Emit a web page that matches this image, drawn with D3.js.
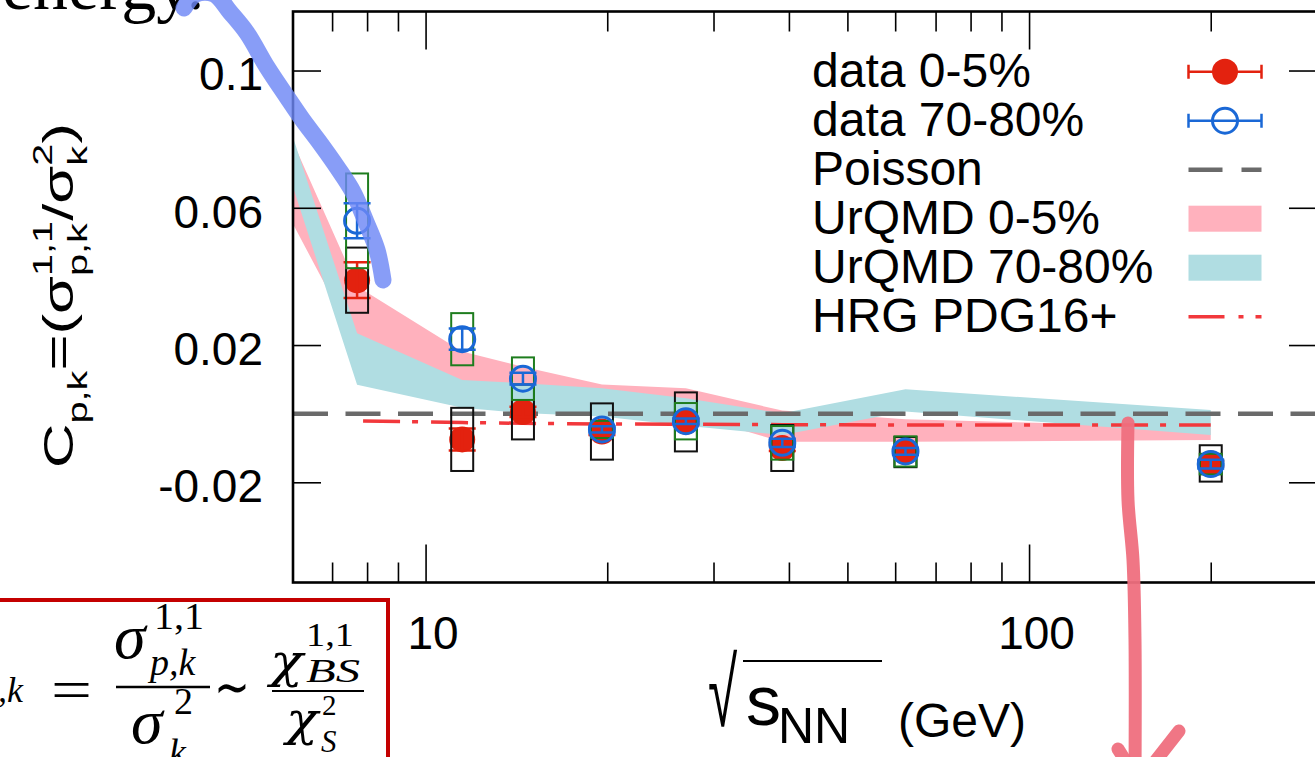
<!DOCTYPE html>
<html>
<head>
<meta charset="utf-8">
<script src="https://cdn.jsdelivr.net/npm/d3@7"></script>
<style>
  html, body { margin: 0; padding: 0; background: #fff; }
  svg { display: block; }
</style>
</head>
<body>
<svg id="chart" width="1315" height="757"></svg>
<script>
// ---- data -------------------------------------------------------------
// beam energies of the measured points (GeV)
const energies = [7.7, 11.5, 14.5, 19.6, 27, 39, 62.4, 200];

// C_{p,k}, 0-5% centrality: value, statistical and systematic errors
const central      = [0.0389, -0.0075, 0.0005, -0.0052, -0.0024, -0.0100, -0.0112, -0.0145];
const centralStat  = [0.0052, 0.0032, 0.0015, 0.0010, 0.0009, 0.0009, 0.0008, 0.0008];
const centralSys   = [0.0095, 0.0092, 0.0080, 0.0082, 0.0086, 0.0067, 0.0044, 0.0053];

// C_{p,k}, 70-80% centrality
const peripheral     = [0.0562, 0.0217, 0.0102, -0.0046, -0.0022, -0.0085, -0.0110, -0.0147];
const peripheralStat = [0.0051, 0.0031, 0.0017, 0.0009, 0.0008, 0.0012, 0.0010, 0.0013];
const peripheralSys  = [0.0138, 0.0076, 0.0062, 0.0025, 0.0053, 0.0049, 0.0044, 0.0030];

// UrQMD bands (lower / upper edge)
const bandEnergies     = [6, 7.7, 11.5, 14.5, 19.6, 27, 39, 62.4, 200];
const urqmdCentralLo   = [0.056, 0.020, 0.008, 0.006, 0.003, 0.000, -0.0082, -0.0082, -0.0077];
const urqmdCentralHi   = [0.080, 0.0371, 0.0181, 0.0137, 0.0085, 0.0074, 0.0009, -0.0016, -0.0040];
const urqmdPeriphLo    = [0.0672, 0.0084, 0.0017, 0.0002, -0.0008, -0.0035, -0.0062, 0.0006, -0.0062];
const urqmdPeriphHi    = [0.0817, 0.0234, 0.0098, 0.0089, 0.0074, 0.0045, 0.0001, 0.0071, 0.0011];

// HRG (PDG16+) expectation
const hrg = [-0.0021, -0.0026, -0.0028, -0.0030, -0.0031, -0.0032, -0.0033, -0.0033];

// Poisson baseline
const poisson = 0;

// axis ticks
const xMajor = [10, 100];
const xMajorLabels = ["10", "100"];
const xMinor = [7, 8, 9, 20, 30, 40, 50, 60, 70, 80, 90, 200];
const yTicks = [-0.02, 0.02, 0.06, 0.1];
const yTickLabels = ["-0.02", "0.02", "0.06", "0.1"];

const legendLabels = ["data 0-5%", "data 70-80%", "Poisson", "UrQMD 0-5%", "UrQMD 70-80%", "HRG PDG16+"];

// ---- styling ----------------------------------------------------------
const SANS = "'Liberation Sans', Arial, Helvetica, sans-serif";
const SERIF = "'Liberation Serif', 'Times New Roman', serif";
const GREEKSERIF = "'DejaVu Serif', 'Liberation Serif', serif";
const RED = "#e3220f", BLUE = "#1a68d6", GREEN = "#1e7d1e";
const PINK = "#ffb1bd", TEAL = "#b0dde2";
const GREY = "#6a6a6a", HRGRED = "#f2383c";

const svg = d3.select("#chart");
svg.append("rect").attr("width", 1315).attr("height", 757).attr("fill", "#fff");

const plot = { left: 293, right: 1317, top: 11.5, bottom: 582.5 };
const x = d3.scaleLog().domain([6.03, 300]).range([plot.left, plot.right]);
const y = d3.scaleLinear().domain([-0.0492, 0.1172]).range([plot.bottom, plot.top]);

svg.append("defs").append("clipPath").attr("id", "plot-area")
  .append("rect")
  .attr("x", plot.left).attr("y", plot.top)
  .attr("width", plot.right - plot.left).attr("height", plot.bottom - plot.top);

const inner = svg.append("g").attr("clip-path", "url(#plot-area)");

// ---- UrQMD bands ------------------------------------------------------
const band = (lo, hi) => bandEnergies.map((e, i) => ({ e, lo: lo[i], hi: hi[i] }));
const area = d3.area().x(d => x(d.e)).y0(d => y(d.lo)).y1(d => y(d.hi));
inner.append("path").datum(band(urqmdCentralLo, urqmdCentralHi))
  .attr("d", area).attr("fill", PINK);
inner.append("path").datum(band(urqmdPeriphLo, urqmdPeriphHi))
  .attr("d", area).attr("fill", TEAL);

// ---- reference lines --------------------------------------------------
inner.append("line")
  .attr("x1", plot.left).attr("x2", plot.right)
  .attr("y1", y(poisson)).attr("y2", y(poisson))
  .attr("stroke", GREY).attr("stroke-width", 4.5)
  .attr("stroke-dasharray", "35,17.5");

const hrgLine = d3.line().x((d, i) => x(energies[i])).y(d => y(d));
inner.append("path").datum(hrg)
  .attr("d", hrgLine).attr("fill", "none")
  .attr("stroke", HRGRED).attr("stroke-width", 3.5)
  .attr("stroke-dasharray", "37,12,6,13").attr("stroke-dashoffset", 62);

// ---- data points ------------------------------------------------------
const pts = (v, st, sy) => energies.map((e, i) => ({ e, v: v[i], st: st[i], sy: sy[i] }));
const cen = pts(central, centralStat, centralSys);
const per = pts(peripheral, peripheralStat, peripheralSys);

function errorBars(g, data, color) {
  const eb = g.append("g").attr("stroke", color).attr("stroke-width", 2.5).attr("fill", "none");
  eb.selectAll("path").data(data).join("path")
    .attr("d", d => {
      const cx = x(d.e), y0 = y(d.v - d.st), y1 = y(d.v + d.st), w = 13.5;
      return `M${cx},${y0}V${y1}M${cx - w},${y0}H${cx + w}M${cx - w},${y1}H${cx + w}`;
    });
}
function sysBoxes(g, data, color) {
  g.append("g").selectAll("rect").data(data).join("rect")
    .attr("x", d => x(d.e) - 11).attr("width", 22)
    .attr("y", d => y(d.v + d.sy)).attr("height", d => y(d.v - d.sy) - y(d.v + d.sy))
    .attr("fill", "none").attr("stroke", color).attr("stroke-width", 2);
}

const marks = svg.append("g");
marks.append("g").selectAll("circle").data(cen).join("circle")
  .attr("cx", d => x(d.e)).attr("cy", d => y(d.v)).attr("r", 13).attr("fill", RED);
errorBars(marks, cen, RED);
sysBoxes(marks, cen, "#111");
sysBoxes(marks, per, GREEN);
marks.append("g").selectAll("circle").data(per).join("circle")
  .attr("cx", d => x(d.e)).attr("cy", d => y(d.v)).attr("r", 12.5)
  .attr("fill", "none").attr("stroke", BLUE).attr("stroke-width", 3);
errorBars(marks, per, BLUE);

// ---- axes -------------------------------------------------------------
function styleAxis(sel) {
  sel.select(".domain").remove();
  sel.selectAll(".tick line").attr("stroke", "#000").attr("stroke-width", 1.6);
  sel.selectAll(".tick text").attr("fill", "#000").attr("font-family", SANS).attr("font-size", 46);
}
const xFmt = d => xMajorLabels[xMajor.indexOf(d)];
const yFmt = d => yTickLabels[yTicks.indexOf(d)];

svg.append("g").attr("transform", `translate(0,${plot.bottom})`)
  .call(d3.axisBottom(x).tickValues(xMajor).tickFormat(xFmt).tickSize(-38).tickPadding(34))
  .call(styleAxis)
  .call(g => g.selectAll(".tick text").attr("dx", 7));
svg.append("g").attr("transform", `translate(0,${plot.bottom})`)
  .call(d3.axisBottom(x).tickValues(xMinor).tickFormat("").tickSize(-20)).call(styleAxis);
svg.append("g").attr("transform", `translate(0,${plot.top})`)
  .call(d3.axisTop(x).tickValues(xMajor).tickFormat("").tickSize(-38)).call(styleAxis);
svg.append("g").attr("transform", `translate(0,${plot.top})`)
  .call(d3.axisTop(x).tickValues(xMinor).tickFormat("").tickSize(-20)).call(styleAxis);
svg.append("g").attr("transform", `translate(${plot.left},0)`)
  .call(d3.axisLeft(y).tickValues(yTicks).tickFormat(yFmt).tickSize(-28).tickPadding(30))
  .call(styleAxis)
  .call(g => g.selectAll(".tick text").attr("dy", "0.42em"));
svg.append("g").attr("transform", `translate(${plot.right},0)`)
  .call(d3.axisRight(y).tickValues(yTicks).tickFormat("").tickSize(-28)).call(styleAxis);

// frame
svg.append("rect")
  .attr("x", plot.left).attr("y", plot.top)
  .attr("width", plot.right - plot.left).attr("height", plot.bottom - plot.top)
  .attr("fill", "none").attr("stroke", "#000").attr("stroke-width", 2.6);

// ---- legend -----------------------------------------------------------
const legend = svg.append("g").attr("font-family", SANS).attr("font-size", 48);
const rowBase = i => 86.7 + 49 * i;
legend.selectAll("text").data(legendLabels).join("text")
  .attr("x", 812).attr("y", (d, i) => rowBase(i)).text(d => d);

const sx0 = 1188.5, sx1 = 1261.5, scx = (sx0 + sx1) / 2;
function legendErr(i, color, filled) {
  const cy = rowBase(i) - 15;
  const g = legend.append("g").attr("stroke", color).attr("stroke-width", 2.5).attr("fill", "none");
  g.append("path").attr("d", `M${sx0},${cy}H${sx1}M${sx0},${cy - 7}V${cy + 7}M${sx1},${cy - 7}V${cy + 7}`);
  if (filled) legend.append("circle").attr("cx", scx).attr("cy", cy).attr("r", 13).attr("fill", color);
  else g.append("circle").attr("cx", scx).attr("cy", cy).attr("r", 12.5).attr("stroke-width", 3);
}
legendErr(0, RED, true);
legendErr(1, BLUE, false);
legend.append("line").attr("x1", sx0).attr("x2", sx1)
  .attr("y1", rowBase(2) - 15).attr("y2", rowBase(2) - 15)
  .attr("stroke", GREY).attr("stroke-width", 4.5).attr("stroke-dasharray", "34,19");
legend.append("rect").attr("x", sx0).attr("width", sx1 - sx0)
  .attr("y", rowBase(3) - 28).attr("height", 26).attr("fill", PINK);
legend.append("rect").attr("x", sx0).attr("width", sx1 - sx0)
  .attr("y", rowBase(4) - 28).attr("height", 26).attr("fill", TEAL);
legend.append("line").attr("x1", sx0).attr("x2", sx1)
  .attr("y1", rowBase(5) - 15).attr("y2", rowBase(5) - 15)
  .attr("stroke", HRGRED).attr("stroke-width", 3.5).attr("stroke-dasharray", "36,14,5,12");

// ---- axis titles ------------------------------------------------------
// lays out a run of text pieces (sub/superscripts, stacked scripts) on one baseline
function richText(g, runs, family) {
  let cx = 0;
  runs.forEach(run => {
    const parts = Array.isArray(run) ? run : [run];
    let w = 0;
    parts.forEach(p => {
      const t = g.append("text").attr("x", cx).attr("y", p.shift || 0)
        .attr("font-family", family).attr("font-size", p.size)
        .attr("font-style", p.italic ? "italic" : null).text(p.t);
      w = Math.max(w, t.node().getComputedTextLength());
    });
    cx += w;
  });
  return cx;
}

const yTitle = svg.append("g");
const yTitleInner = yTitle.append("g");
const yLen = richText(yTitleInner, [
  { t: "C", size: 42 },
  { t: "p,k", size: 27, shift: 14 },
  { t: "=(σ", size: 42 },
  [{ t: "1,1", size: 27, shift: -21 }, { t: "p,k", size: 27, shift: 14 }],
  { t: "/σ", size: 42 },
  [{ t: "2", size: 27, shift: -21 }, { t: "k", size: 27, shift: 14 }],
  { t: ")", size: 42 }
], SANS);
yTitle.attr("transform", `translate(73,468) rotate(-90) scale(${345 / yLen},1)`);

const xTitle = svg.append("g").attr("font-family", SANS).attr("fill", "#000");
xTitle.append("text").attr("transform", "translate(708,726) scale(0.95,1.72)")
  .attr("font-family", "'DejaVu Sans', sans-serif").attr("font-weight", 300)
  .attr("font-size", 56).text("√");
xTitle.append("line").attr("x1", 743).attr("x2", 882).attr("y1", 661).attr("y2", 661)
  .attr("stroke", "#000").attr("stroke-width", 2.2);
xTitle.append("text").attr("x", 746).attr("y", 725).attr("font-size", 70).text("s");
xTitle.append("text").attr("x", 778).attr("y", 743).attr("font-size", 50).text("NN");
xTitle.append("text").attr("x", 898).attr("y", 737).attr("font-size", 48).text("(GeV)");

// ---- slide annotations ------------------------------------------------
svg.append("text").attr("x", 2).attr("y", 9)
  .attr("font-family", SERIF).attr("font-size", 70).text("energy.");

const formula = svg.append("g").attr("font-family", SERIF).attr("fill", "#000");
function ftext(t, xx, yy, size, len, italic, family) {
  const el = formula.append("text").attr("x", xx).attr("y", yy).attr("font-size", size)
    .attr("font-style", italic ? "italic" : null).text(t);
  if (family) el.attr("font-family", family);
  if (len) el.attr("textLength", len).attr("lengthAdjust", "spacingAndGlyphs");
}
ftext(",k", -2, 702, 36, 0, true);
ftext("=", 51, 709, 56, 41, false);
ftext("σ", 114, 658, 64, 0, true);
ftext("1,1", 154, 629, 38, 50, false);
ftext("p,k", 150, 675, 38, 0, true);
ftext("σ", 131, 743, 64, 0, true);
ftext("2", 174, 714, 38, 0, false);
ftext("k", 169, 765, 38, 0, true);
ftext("∼", 214, 706, 56, 36, false);
ftext("χ", 270, 677, 46, 33, true, GREEKSERIF);
ftext("1,1", 306, 646, 34, 48, false);
ftext("BS", 306, 682, 34, 54, true);
ftext("χ", 286, 735, 46, 32, true, GREEKSERIF);
ftext("2", 322, 715, 29, 0, false);
ftext("S", 321, 752, 31, 0, true);
formula.append("line").attr("x1", 116).attr("x2", 210).attr("y1", 687).attr("y2", 687)
  .attr("stroke", "#000").attr("stroke-width", 2.4);
formula.append("line").attr("x1", 272).attr("x2", 364).attr("y1", 691).attr("y2", 691)
  .attr("stroke", "#000").attr("stroke-width", 2.2);
svg.append("rect").attr("x", -10).attr("y", 600).attr("width", 398).attr("height", 200)
  .attr("fill", "none").attr("stroke", "#c40000").attr("stroke-width", 4);

// hand-drawn highlighter stroke
const pen = d3.line().curve(d3.curveCatmullRom);
svg.append("path")
  .attr("d", pen([[184, 8], [196, -6], [214, -6], [230, 12], [247, 33], [267, 67], [287, 97],
                  [302, 119], [320, 143], [337, 167], [353, 192], [366, 222], [377, 250], [383, 280]]))
  .attr("fill", "none").attr("stroke", "rgb(110,135,245)").attr("stroke-opacity", 0.82)
  .attr("stroke-width", 17).attr("stroke-linecap", "round").attr("stroke-linejoin", "round");

// hand-drawn arrow
const arrow = svg.append("g").attr("fill", "none").attr("stroke", "#ef6f7e")
  .attr("stroke-opacity", 0.95).attr("stroke-width", 13).attr("stroke-linecap", "round");
arrow.append("path").attr("d", pen([[1128, 423], [1128, 500], [1133, 560], [1135, 640], [1135, 780]]));
arrow.append("path").attr("d", "M1118,749L1130,768");
arrow.append("path").attr("d", "M1179,731L1150,768");
</script>
</body>
</html>
